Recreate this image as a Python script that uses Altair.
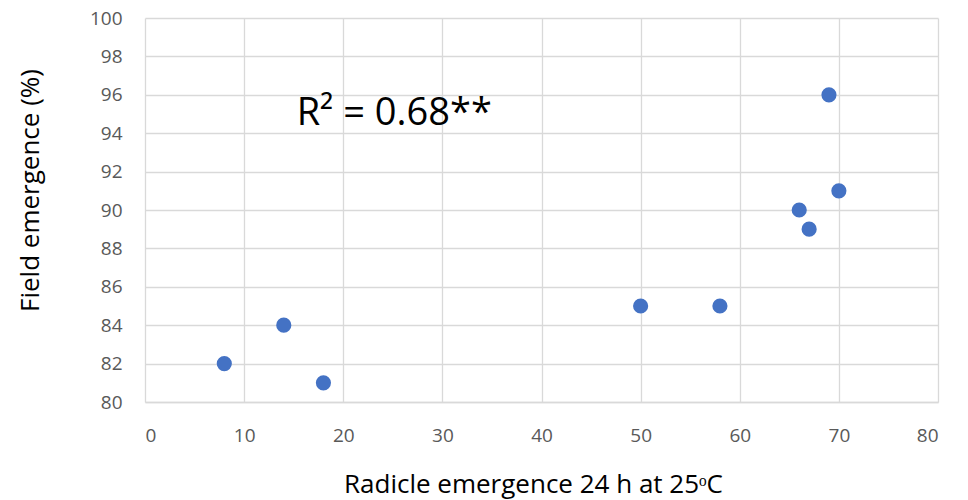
import altair as alt
import pandas as pd

radicle = [8, 14, 18, 50, 58, 66, 67, 69, 70]
field = [82, 84, 81, 85, 85, 90, 89, 96, 91]
x_ticks = [0, 10, 20, 30, 40, 50, 60, 70, 80]
y_ticks = [80, 82, 84, 86, 88, 90, 92, 94, 96, 98, 100]
note_text = ["R² = 0.68**"]
note_x = [15.3]
note_y = [95.0]

df = pd.DataFrame({"x": radicle, "y": field})
note = pd.DataFrame({"x": note_x, "y": note_y, "t": note_text})

FONT = "Open Sans"

xs = alt.Scale(domain=[0, 80], nice=False, zero=False)
ys = alt.Scale(domain=[80, 100], nice=False, zero=False)

x_axis = alt.Axis(
    values=x_ticks, title="Radicle emergence 24 h at 25ᵒC",
    grid=True, gridColor="#D9D9D9", gridWidth=1.3,
    domain=True, domainColor="#D9D9D9", domainWidth=1.3, ticks=False,
    labelOverlap=False,
    labelFont=FONT, labelFontSize=19, labelColor="#595959", labelPadding=24,
    titleFont=FONT, titleFontSize=26, titleFontWeight="normal", titleColor="#000000",
    titlePadding=26, titleX=388)
y_axis = alt.Axis(
    values=y_ticks, title="Field emergence (%)",
    grid=True, gridColor="#D9D9D9", gridWidth=1.3,
    domain=False, ticks=False,
    labelOverlap=False,
    labelFont=FONT, labelFontSize=19, labelColor="#595959", labelPadding=23,
    titleFont=FONT, titleFontSize=26, titleFontWeight="normal", titleColor="#000000",
    titlePadding=46, titleY=172)

points = alt.Chart(df).mark_circle(size=230, opacity=1, color="#4472C4").encode(
    x=alt.X("x:Q", scale=xs, axis=x_axis),
    y=alt.Y("y:Q", scale=ys, axis=y_axis),
)

text = alt.Chart(note).mark_text(align="left", baseline="middle", font=FONT,
                                 fontSize=38, color="#000000").encode(
    x=alt.X("x:Q", scale=xs, axis=x_axis),
    y=alt.Y("y:Q", scale=ys, axis=y_axis),
    text="t:N")

chart = alt.layer(points, text).properties(
    width=793, height=384,
    autosize=alt.AutoSizeParams(type="none"),
    padding={"left": 145, "top": 18, "right": 30, "bottom": 98},
).configure_view(stroke=None)

chart.save("out.html", embed_options={"renderer": "svg", "actions": False})
